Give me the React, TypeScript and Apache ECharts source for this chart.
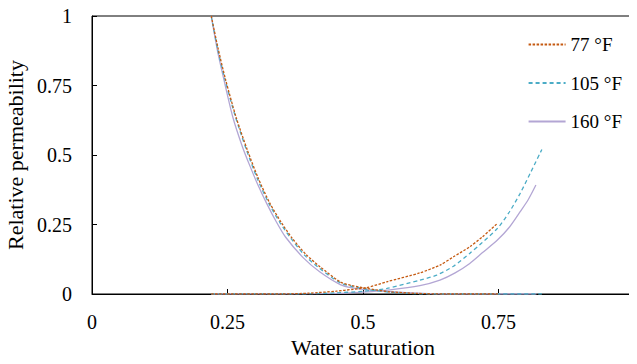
import React, { useEffect, useRef } from "react";
import * as echarts from "echarts";

const xTicks = [0, 0.25, 0.5, 0.75, 1];
const yTicks = [0, 0.25, 0.5, 0.75, 1];

const names = ["77 °F", "105 °F", "160 °F"];

// 77 °F
const dec77: [number, number][] = [
  [0.22, 1.0], [0.233, 0.88], [0.2466, 0.77], [0.266, 0.635], [0.2866, 0.518],
  [0.307, 0.415], [0.328, 0.327], [0.349, 0.258], [0.3696, 0.2], [0.395, 0.142],
  [0.4207, 0.098], [0.4576, 0.044], [0.48, 0.03], [0.507, 0.02], [0.55, 0.008],
  [0.6, 0.002], [0.65, 0], [0.75, 0],
];
const inc77: [number, number][] = [
  [0.22, 0], [0.35, 0], [0.4, 0.003], [0.45, 0.01], [0.482, 0.017], [0.507, 0.023],
  [0.544, 0.044], [0.605, 0.076], [0.642, 0.104], [0.667, 0.134], [0.697, 0.17],
  [0.72, 0.205], [0.748, 0.254],
];
// 105 °F
const dec105: [number, number][] = [
  [0.22, 1.0], [0.232, 0.88], [0.2455, 0.77], [0.265, 0.635], [0.285, 0.518],
  [0.305, 0.415], [0.326, 0.327], [0.347, 0.256], [0.367, 0.2], [0.393, 0.138],
  [0.42, 0.092], [0.458, 0.04], [0.48, 0.027], [0.507, 0.017], [0.55, 0.006],
  [0.6, 0.001], [0.65, 0], [0.83, 0],
];
const inc105: [number, number][] = [
  [0.22, 0], [0.4, 0.001], [0.45, 0.004], [0.5, 0.01], [0.544, 0.02],
  [0.605, 0.05], [0.636, 0.068], [0.667, 0.1], [0.697, 0.146], [0.72, 0.185],
  [0.748, 0.236], [0.77, 0.295], [0.79, 0.362], [0.81, 0.44], [0.83, 0.52],
];
// 160 °F
const dec160: [number, number][] = [
  [0.22, 1.0], [0.231, 0.88], [0.2435, 0.77], [0.26, 0.635], [0.2775, 0.53],
  [0.2915, 0.46], [0.306, 0.393], [0.322, 0.327], [0.34, 0.26], [0.357, 0.205],
  [0.39, 0.13], [0.42, 0.08], [0.458, 0.034], [0.48, 0.022], [0.507, 0.015],
  [0.58, 0.005], [0.65, 0], [0.82, 0],
];
const inc160: [number, number][] = [
  [0.22, 0], [0.45, 0.002], [0.5, 0.007], [0.55, 0.015], [0.605, 0.03],
  [0.642, 0.05], [0.67, 0.076], [0.697, 0.11], [0.72, 0.148], [0.748, 0.194],
  [0.77, 0.24], [0.79, 0.296], [0.805, 0.34], [0.819, 0.392],
];

const colors = ["#C55A11", "#4BACC6", "#B3A6D4"];
const FONT = "Liberation Serif, DejaVu Serif, serif";

export default function App() {
  const ref = useRef<HTMLDivElement>(null);
  useEffect(() => {
    if (!ref.current) return;
    const chart = echarts.init(ref.current, null, { renderer: "svg" });
    const mk = (name: string, data: [number, number][], color: string, type: any, z: number) => ({
      type: "line",
      name,
      data,
      smooth: 0.25,
      symbol: "none",
      z,
      lineStyle: { color, width: 1.3, type },
      itemStyle: { color },
    });
    chart.setOption({
      animation: false,
      textStyle: { fontFamily: FONT },
      grid: {
        left: 92, right: 3, top: 16, bottom: 70,
        show: true, borderColor: "#000", borderWidth: 1,
        containLabel: false, outerBoundsMode: "none",
      },
      legend: {
        data: names,
        orient: "vertical",
        right: 10,
        top: 30,
        align: "left",
        itemWidth: 37,
        itemHeight: 12,
        itemGap: 19.5,
        itemStyle: { opacity: 0 },
        textStyle: { fontFamily: FONT, fontSize: 19, color: "#000" },
      },
      xAxis: {
        type: "value",
        min: 0,
        max: 1,
        interval: 0.25,
        name: "Water saturation",
        nameLocation: "middle",
        nameGap: 41,
        nameTextStyle: { fontFamily: FONT, fontSize: 22, color: "#000" },
        axisLine: { lineStyle: { color: "#000", width: 1 } },
        axisTick: { inside: true, length: 5, lineStyle: { color: "#000" } },
        splitLine: { show: false },
        axisLabel: {
          fontFamily: FONT, fontSize: 20, color: "#000", margin: 18,
          formatter: (v: number) => (xTicks.includes(v) ? String(v) : ""),
        },
      },
      yAxis: {
        type: "value",
        min: 0,
        max: 1,
        interval: 0.25,
        name: "Relative permeability",
        nameLocation: "middle",
        nameGap: 63,
        nameTextStyle: { fontFamily: FONT, fontSize: 22, color: "#000" },
        axisLine: { show: true, lineStyle: { color: "#000", width: 1 } },
        axisTick: { show: true, inside: true, length: 5, lineStyle: { color: "#000" } },
        splitLine: { show: false },
        axisLabel: {
          fontFamily: FONT, fontSize: 20, color: "#000", margin: 20,
          formatter: (v: number) => (yTicks.includes(v) ? String(v) : ""),
        },
      },
      series: [
        mk(names[2], dec160, colors[2], "solid", 2),
        mk(names[2], inc160, colors[2], "solid", 2),
        mk(names[1], dec105, colors[1], [4, 3], 3),
        mk(names[1], inc105, colors[1], [4, 3], 3),
        mk(names[0], dec77, colors[0], [2.5, 1.5], 4),
        mk(names[0], inc77, colors[0], [2.5, 1.5], 4),
      ],
    });
    return () => chart.dispose();
  }, []);
  return <div ref={ref} style={{ width: 637, height: 364, margin: -8 }} />;
}
